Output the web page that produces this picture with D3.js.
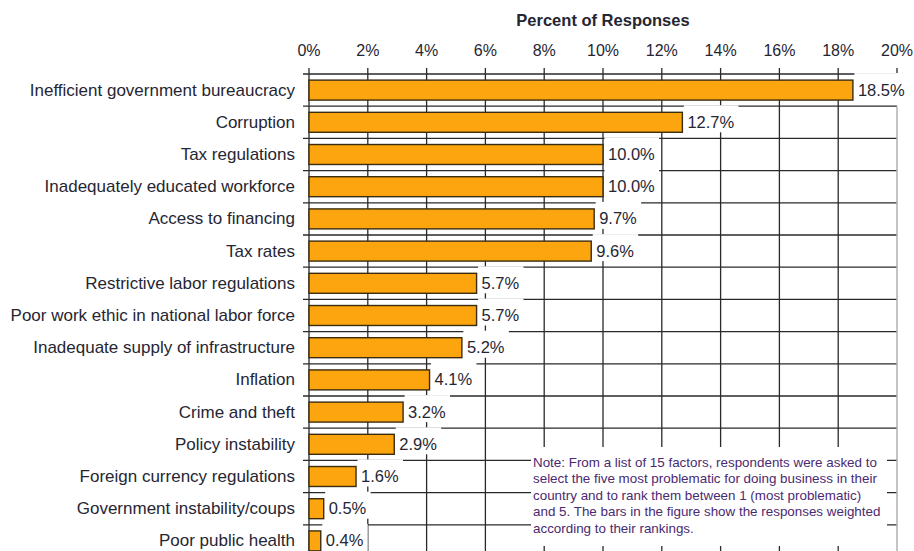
<!DOCTYPE html>
<html>
<head>
  <script src="https://d3js.org/d3.v7.min.js"></script>
  <style>
    body { margin: 0; background: #fff; }
    text { font-family: "Liberation Sans", Arial, sans-serif; fill: #262633; }
    .title { font-weight: bold; font-size: 16.5px; }
    .tick-label { font-size: 16px; text-anchor: middle; }
    .cat { font-size: 17px; text-anchor: end; }
    .val { font-size: 16.5px; }
    .note { font-size: 13.4px; fill: #4a2a72; }
  </style>
</head>
<body>
  <script>
    // factors, most problematic first
    var categories = [
      "Inefficient government bureaucracy",
      "Corruption",
      "Tax regulations",
      "Inadequately educated workforce",
      "Access to financing",
      "Tax rates",
      "Restrictive labor regulations",
      "Poor work ethic in national labor force",
      "Inadequate supply of infrastructure",
      "Inflation",
      "Crime and theft",
      "Policy instability",
      "Foreign currency regulations",
      "Government instability/coups",
      "Poor public health"
    ];
    var values = [18.5, 12.7, 10.0, 10.0, 9.7, 9.6, 5.7, 5.7, 5.2, 4.1, 3.2, 2.9, 1.6, 0.5, 0.4];
    var ticks = [0, 2, 4, 6, 8, 10, 12, 14, 16, 18, 20];
    var noteLines = [
      "Note: From a list of 15 factors, respondents were asked to",
      "select the five most problematic for doing business in their",
      "country and to rank them between 1 (most problematic)",
      "and 5. The bars in the figure show the responses weighted",
      "according to their rankings."
    ];

    var width = 914, height = 551;
    var svg = d3.select("body").append("svg")
      .attr("width", width)
      .attr("height", height);

    var x = d3.scaleLinear().domain([0, 20]).range([309, 897]);
    var y = d3.scaleBand().domain(categories).range([74, 74 + 15 * 32.2]).paddingInner(0.38).paddingOuter(0.19);
    var step = y.step();
    var plotTop = y.range()[0], plotBottom = y.range()[1];
    var gridColor = "#2a2a2a";

    // title
    svg.append("text").attr("class", "title")
      .attr("x", (x(0) + x(20)) / 2).attr("y", 26)
      .attr("text-anchor", "middle")
      .text("Percent of Responses");

    // tick labels
    svg.selectAll(".tick-label").data(ticks).enter().append("text")
      .attr("class", "tick-label")
      .attr("x", d => x(d)).attr("y", 56)
      .text(d => d + "%");

    // horizontal grid lines (row boundaries)
    var bounds = d3.range(16).map(i => plotTop + i * step);
    svg.selectAll(".hline").data(bounds).enter().append("line")
      .attr("x1", x(0) - 6).attr("x2", x(20))
      .attr("y1", d => d).attr("y2", d => d)
      .attr("stroke", gridColor).attr("stroke-width", 1.3);

    // vertical grid lines
    svg.selectAll(".vline").data(ticks.slice(0, -1)).enter().append("line")
      .attr("x1", d => x(d)).attr("x2", d => x(d))
      .attr("y1", plotTop - 6).attr("y2", plotBottom)
      .attr("stroke", gridColor).attr("stroke-width", 1.3);
    svg.append("line")
      .attr("x1", x(20)).attr("x2", x(20))
      .attr("y1", plotTop + step).attr("y2", plotBottom)
      .attr("stroke", "#b0b0b0").attr("stroke-width", 1.5);
    svg.append("line")
      .attr("x1", x(20)).attr("x2", x(20))
      .attr("y1", plotTop - 6).attr("y2", plotTop - 1)
      .attr("stroke", gridColor).attr("stroke-width", 1.3);

    // bars
    svg.selectAll(".bar").data(values).enter().append("rect")
      .attr("x", x(0))
      .attr("y", (d, i) => y(categories[i]))
      .attr("width", d => x(d) - x(0))
      .attr("height", y.bandwidth())
      .attr("fill", "#FDA50F")
      .attr("stroke", "#3a2c10")
      .attr("stroke-width", 1.4);

    // category labels
    svg.selectAll(".cat").data(categories).enter().append("text")
      .attr("class", "cat")
      .attr("x", 295)
      .attr("y", d => y(d) + y.bandwidth() / 2 + 5.5)
      .text(d => d);

    // value labels with white backing
    var vg = svg.selectAll(".vg").data(values).enter().append("g");
    vg.append("text")
      .attr("class", "val")
      .attr("x", d => x(d) + 5)
      .attr("y", (d, i) => y(categories[i]) + y.bandwidth() / 2 + 5.5)
      .text(d => d.toFixed(1) + "%");
    vg.each(function (d, i) {
      var g = d3.select(this);
      var bb = g.select("text").node().getBBox();
      var cy = y(categories[i]) + y.bandwidth() / 2;
      g.insert("rect", "text")
        .attr("x", x(d) + 1.5)
        .attr("y", cy - 17)
        .attr("width", bb.x + bb.width + 4 - x(d) - 1.5)
        .attr("height", 27)
        .attr("fill", "#fff");
    });

    // note box
    var note = svg.append("g");
    note.append("rect")
      .attr("x", 531).attr("y", 447)
      .attr("width", 356).attr("height", 99)
      .attr("fill", "#fff");
    note.selectAll("text").data(noteLines).enter().append("text")
      .attr("class", "note")
      .attr("x", 533)
      .attr("y", (d, i) => 466.5 + i * 16.5)
      .text(d => d);
  </script>
</body>
</html>
